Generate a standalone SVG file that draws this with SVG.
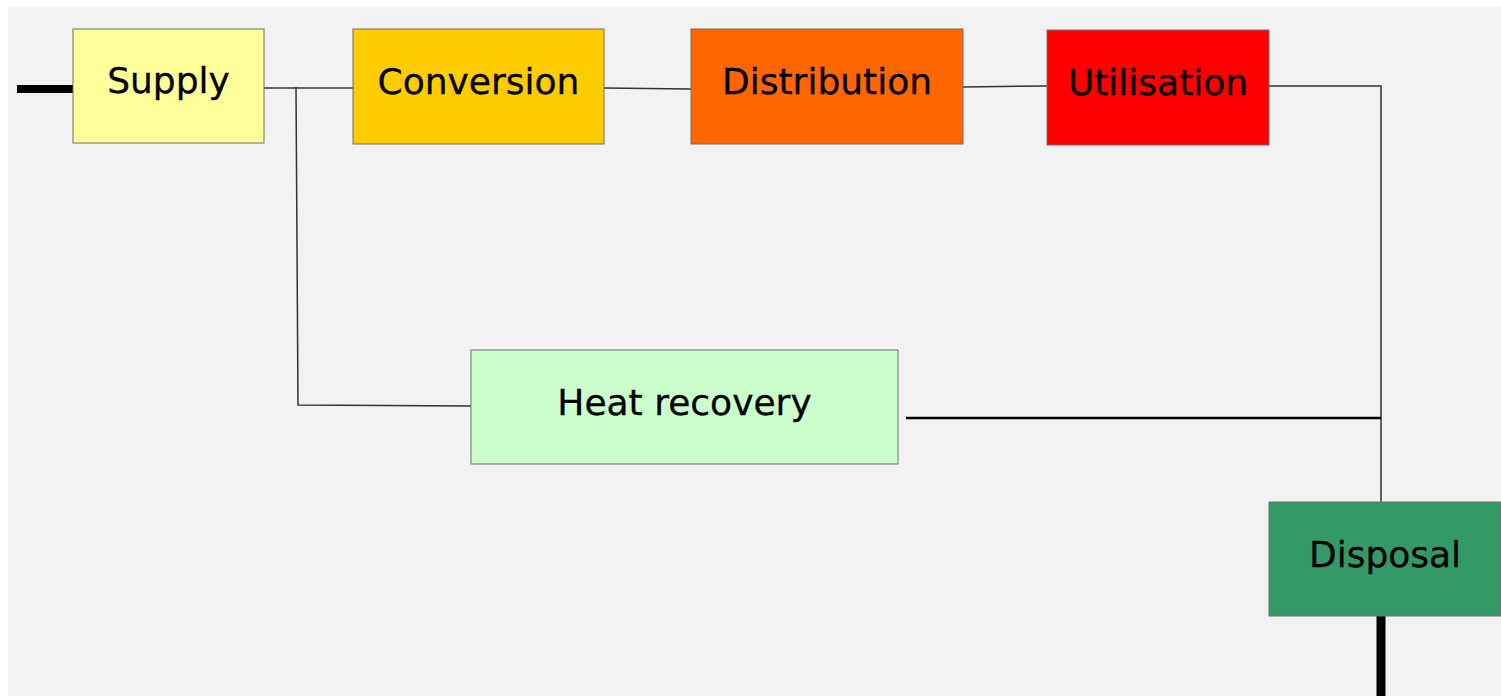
<svg xmlns="http://www.w3.org/2000/svg" width="1501" height="696" viewBox="0 0 1501 696">
<style>
.box{stroke:#6f6f6f;stroke-width:1}
.lbl{font-family:"DejaVu Sans",Verdana,sans-serif;font-size:36px;fill:#000;stroke:#000;stroke-width:0.3;text-anchor:middle}
.thin{fill:none;stroke:#333;stroke-width:1.5}
.thick{fill:none;stroke:#000}
</style>
<rect x="0" y="0" width="1501" height="696" fill="#ffffff"/>
<rect x="8" y="7" width="1493" height="689" fill="#f2f2f2"/>
<g id="connectors">
<line class="thick" x1="17" y1="89" x2="73" y2="89" stroke-width="8"/>
<polyline class="thin" points="264,88 353,88"/>
<polyline class="thin" points="296,87 298,405 471,406"/>
<polyline class="thin" points="604,88 691,89"/>
<polyline class="thin" points="963,87 1047,86"/>
<polyline class="thin" points="1269,86 1381,86 1381,502"/>
<line class="thick" x1="906" y1="418" x2="1381" y2="418" stroke-width="2.5"/>
<line class="thick" x1="1381" y1="616" x2="1381" y2="696" stroke-width="9"/>
</g>
<g id="supply"><rect class="box" x="73" y="29" width="191" height="114" fill="#ffff99"/><text class="lbl" x="168.5" y="93">Supply</text></g>
<g id="conversion"><rect class="box" x="353" y="29" width="251" height="115" fill="#ffcc00"/><text class="lbl" x="478.5" y="94">Conversion</text></g>
<g id="distribution"><rect class="box" x="691" y="29" width="272" height="115" fill="#ff6600"/><text class="lbl" x="827" y="94">Distribution</text></g>
<g id="utilisation"><rect class="box" x="1047" y="30" width="222" height="115" fill="#ff0000"/><text class="lbl" x="1158" y="95">Utilisation</text></g>
<g id="heat-recovery"><rect class="box" x="471" y="350" width="427" height="114" fill="#ccffcc"/><text class="lbl" x="684.5" y="415">Heat recovery</text></g>
<g id="disposal"><rect class="box" x="1269" y="502" width="232" height="114" fill="#339966"/><text class="lbl" x="1385" y="567">Disposal</text></g>
</svg>
